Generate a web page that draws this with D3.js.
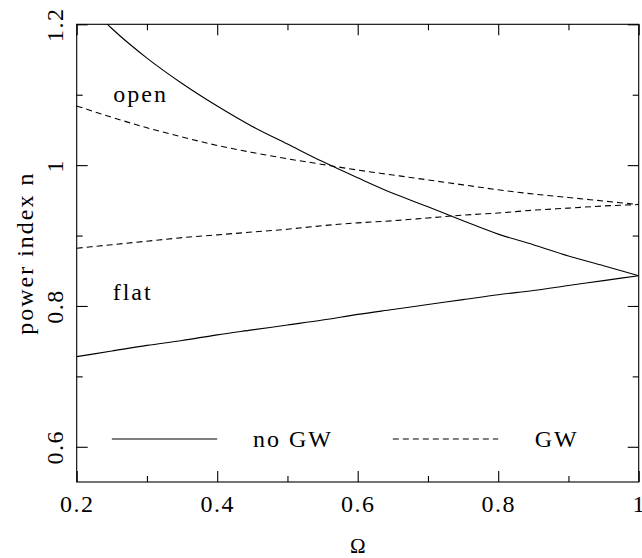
<!DOCTYPE html>
<html>
<head>
<meta charset="utf-8">
<script src="https://cdn.jsdelivr.net/npm/d3@7"></script>
<style>
  body { margin: 0; background: #fff; }
  svg text { font-family: "Liberation Serif", "DejaVu Serif", serif; fill: #000; }
</style>
</head>
<body>
<div id="chart"></div>
<script>
// Omega grid
const omega = [0.20, 0.25, 0.30, 0.35, 0.40, 0.45, 0.50, 0.55, 0.60, 0.65, 0.70, 0.75, 0.80, 0.85, 0.90, 0.95, 1.00];

// open models
const openNoGW = [1.245, 1.194, 1.152, 1.116, 1.084, 1.055, 1.030, 1.005, 0.982, 0.960, 0.941, 0.921, 0.902, 0.887, 0.871, 0.857, 0.843];
const openGW   = [1.084, 1.068, 1.053, 1.040, 1.028, 1.018, 1.009, 1.001, 0.993, 0.986, 0.979, 0.972, 0.965, 0.959, 0.954, 0.949, 0.944];

// flat models
const flatNoGW = [0.728, 0.736, 0.744, 0.751, 0.759, 0.766, 0.773, 0.780, 0.788, 0.795, 0.802, 0.809, 0.816, 0.822, 0.829, 0.836, 0.843];
const flatGW   = [0.882, 0.887, 0.892, 0.897, 0.901, 0.905, 0.909, 0.914, 0.918, 0.921, 0.925, 0.929, 0.932, 0.936, 0.939, 0.942, 0.944];

const xMajor = [0.2, 0.4, 0.6, 0.8, 1];
const xMinor = [0.3, 0.5, 0.7, 0.9];
const yMajor = [0.6, 0.8, 1, 1.2];
const yMinor = [0.7, 0.9, 1.1];

const W = 642, H = 558;
const pLeft = 76.7, pRight = 638.7, pTop = 24.3, pBottom = 482;

const svg = d3.select("#chart").append("svg")
    .attr("width", W)
    .attr("height", H);

const x = d3.scaleLinear().domain([0.2, 1]).range([pLeft, pRight]);
const y = d3.scaleLinear().domain([0.55, 1.2]).range([pBottom, pTop]);

svg.append("clipPath").attr("id", "clip")
  .append("rect")
    .attr("x", pLeft).attr("y", pTop)
    .attr("width", pRight - pLeft).attr("height", pBottom - pTop);

const line = d3.line()
    .x(d => x(d[0]))
    .y(d => y(d[1]))
    .curve(d3.curveMonotoneX);

const series = [
  { vals: openNoGW, dash: null },
  { vals: openGW, dash: "6,4" },
  { vals: flatNoGW, dash: null },
  { vals: flatGW, dash: "6,4" }
];

const g = svg.append("g").attr("clip-path", "url(#clip)");
series.forEach(s => {
  g.append("path")
    .datum(omega.map((o, i) => [o, s.vals[i]]))
    .attr("d", line)
    .style("fill", "none")
    .style("stroke", "#000")
    .style("stroke-width", 1.1)
    .style("stroke-dasharray", s.dash);
});

// frame
svg.append("rect")
    .attr("x", pLeft).attr("y", pTop)
    .attr("width", pRight - pLeft).attr("height", pBottom - pTop)
    .style("fill", "none")
    .style("stroke", "#000")
    .style("stroke-width", 1.1);

function tickStyle(sel) {
  sel.select(".domain").remove();
  sel.selectAll("line").style("stroke", "#000").style("stroke-width", 1.1);
}

// x axes (ticks inward)
svg.append("g").attr("transform", `translate(0,${pBottom})`)
    .call(d3.axisBottom(x).tickValues(xMajor).tickSize(-11).tickFormat(d3.format("")))
    .call(tickStyle)
    .call(a => a.selectAll("text")
        .attr("y", 29.7).attr("dy", null)
        .style("font-size", "24px").style("letter-spacing", "1.5px"));
svg.append("g").attr("transform", `translate(0,${pBottom})`)
    .call(d3.axisBottom(x).tickValues(xMinor).tickSize(-6).tickFormat(""))
    .call(tickStyle);
svg.append("g").attr("transform", `translate(0,${pTop})`)
    .call(d3.axisTop(x).tickValues(xMajor).tickSize(-11).tickFormat(""))
    .call(tickStyle);
svg.append("g").attr("transform", `translate(0,${pTop})`)
    .call(d3.axisTop(x).tickValues(xMinor).tickSize(-6).tickFormat(""))
    .call(tickStyle);

// y axes (ticks inward, labels rotated)
svg.append("g").attr("transform", `translate(${pLeft},0)`)
    .call(d3.axisLeft(y).tickValues(yMajor).tickSize(-11).tickFormat(d3.format("")))
    .call(tickStyle)
    .call(a => a.selectAll("text")
        .attr("transform", "rotate(-90)")
        .attr("x", 0).attr("y", -13.4).attr("dy", null)
        .attr("text-anchor", "middle")
        .style("font-size", "24px").style("letter-spacing", "1.5px"));
svg.append("g").attr("transform", `translate(${pLeft},0)`)
    .call(d3.axisLeft(y).tickValues(yMinor).tickSize(-6).tickFormat(""))
    .call(tickStyle);
svg.append("g").attr("transform", `translate(${pRight},0)`)
    .call(d3.axisRight(y).tickValues(yMajor).tickSize(-11).tickFormat(""))
    .call(tickStyle);
svg.append("g").attr("transform", `translate(${pRight},0)`)
    .call(d3.axisRight(y).tickValues(yMinor).tickSize(-6).tickFormat(""))
    .call(tickStyle);

// axis titles
svg.append("text")
    .attr("transform", `translate(33,${(pTop + pBottom) / 2}) rotate(-90)`)
    .attr("text-anchor", "middle")
    .style("font-size", "24px").style("letter-spacing", "2px")
    .text("power index n");
svg.append("text")
    .attr("x", (pLeft + pRight) / 2).attr("y", 553)
    .attr("text-anchor", "middle")
    .style("font-size", "21px")
    .text("Ω");

// curve labels
svg.append("text").attr("x", 113.3).attr("y", 101.7)
    .style("font-size", "24px").style("letter-spacing", "2px").text("open");
svg.append("text").attr("x", 112.7).attr("y", 300)
    .style("font-size", "24px").style("letter-spacing", "2px").text("flat");

// legend
const legend = [
  { x0: 0.25, x1: 0.4, tx: 0.451, label: "no GW", dash: null },
  { x0: 0.65, x1: 0.8, tx: 0.852, label: "GW", dash: "6,4" }
];
const legY = 0.611;
legend.forEach(l => {
  svg.append("line")
      .attr("x1", x(l.x0)).attr("x2", x(l.x1))
      .attr("y1", y(legY)).attr("y2", y(legY))
      .style("stroke", "#000").style("stroke-width", 1.1)
      .style("stroke-dasharray", l.dash);
  svg.append("text")
      .attr("x", x(l.tx)).attr("y", 447.4)
      .style("font-size", "24px").style("letter-spacing", "2px")
      .text(l.label);
});
</script>
</body>
</html>
